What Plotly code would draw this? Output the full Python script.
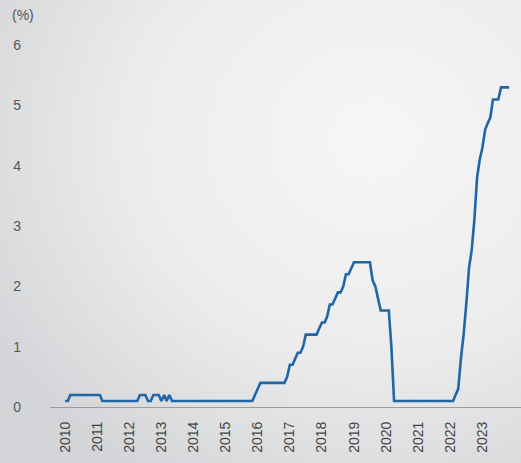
import base64

import pandas as pd
import plotly.graph_objs as go

# Monthly effective rate (%), rounded to one decimal
rate_2010 = [0.1, 0.1, 0.2, 0.2, 0.2, 0.2, 0.2, 0.2, 0.2, 0.2, 0.2, 0.2]
rate_2011 = [0.2, 0.2, 0.1, 0.1, 0.1, 0.1, 0.1, 0.1, 0.1, 0.1, 0.1, 0.1]
rate_2012 = [0.1, 0.1, 0.1, 0.1, 0.2, 0.2, 0.2, 0.1, 0.1, 0.2, 0.2, 0.2]
rate_2013 = [0.1, 0.2, 0.1, 0.2, 0.1, 0.1, 0.1, 0.1, 0.1, 0.1, 0.1, 0.1]
rate_2014 = [0.1, 0.1, 0.1, 0.1, 0.1, 0.1, 0.1, 0.1, 0.1, 0.1, 0.1, 0.1]
rate_2015 = [0.1, 0.1, 0.1, 0.1, 0.1, 0.1, 0.1, 0.1, 0.1, 0.1, 0.1, 0.2]
rate_2016 = [0.3, 0.4, 0.4, 0.4, 0.4, 0.4, 0.4, 0.4, 0.4, 0.4, 0.4, 0.5]
rate_2017 = [0.7, 0.7, 0.8, 0.9, 0.9, 1.0, 1.2, 1.2, 1.2, 1.2, 1.2, 1.3]
rate_2018 = [1.4, 1.4, 1.5, 1.7, 1.7, 1.8, 1.9, 1.9, 2.0, 2.2, 2.2, 2.3]
rate_2019 = [2.4, 2.4, 2.4, 2.4, 2.4, 2.4, 2.4, 2.1, 2.0, 1.8, 1.6, 1.6]
rate_2020 = [1.6, 1.6, 1.0, 0.1, 0.1, 0.1, 0.1, 0.1, 0.1, 0.1, 0.1, 0.1]
rate_2021 = [0.1, 0.1, 0.1, 0.1, 0.1, 0.1, 0.1, 0.1, 0.1, 0.1, 0.1, 0.1]
rate_2022 = [0.1, 0.1, 0.2, 0.3, 0.8, 1.2, 1.7, 2.3, 2.6, 3.1, 3.8, 4.1]
rate_2023 = [4.3, 4.6, 4.7, 4.8, 5.1, 5.1, 5.1, 5.3, 5.3, 5.3, 5.3]

rates = (rate_2010 + rate_2011 + rate_2012 + rate_2013 + rate_2014 + rate_2015 + rate_2016
         + rate_2017 + rate_2018 + rate_2019 + rate_2020 + rate_2021 + rate_2022 + rate_2023)
months = pd.date_range('2010-01-01', periods=len(rates), freq='MS')

years = list(range(2010, 2024))
y_ticks = [0, 1, 2, 3, 4, 5, 6]

W, H = 521, 463
L, R, T, B = 50, 0, 15, 56
pw, ph = W - L - R, H - T - B

# soft grey backdrop, darker towards the left edge
svg = (f'<svg xmlns="http://www.w3.org/2000/svg" width="{W}" height="{H}">'
       '<defs><radialGradient id="g" cx="0.72" cy="0.3" r="0.85">'
       '<stop offset="0" stop-color="#f6f6f6"/><stop offset="0.55" stop-color="#ececed"/>'
       '<stop offset="1" stop-color="#d4d5d8"/></radialGradient></defs>'
       f'<rect width="{W}" height="{H}" fill="url(#g)"/></svg>')
bg_src = 'data:image/svg+xml;base64,' + base64.b64encode(svg.encode()).decode()

fig = go.Figure()
fig.add_trace(go.Scatter(x=months, y=rates, mode='lines',
                         line=dict(color='#1f67a6', width=2.6),
                         hoverinfo='skip'))

fig.update_layout(
    width=W, height=H,
    margin=dict(l=L, r=R, t=T, b=B),
    paper_bgcolor='rgba(0,0,0,0)',
    plot_bgcolor='rgba(0,0,0,0)',
    showlegend=False,
    font=dict(family='Liberation Sans, Arial, sans-serif', color='#555555', size=14),
    images=[dict(source=bg_src, xref='paper', yref='paper',
                 x=-L / pw, y=1 + T / ph, sizex=W / pw, sizey=H / ph,
                 sizing='stretch', layer='below', xanchor='left', yanchor='top')],
    annotations=[dict(text='(%)', xref='paper', yref='paper',
                      x=-40 / pw, y=1.0, xanchor='left', yanchor='middle',
                      showarrow=False, font=dict(size=14, color='#555555'))],
)

fig.update_xaxes(
    range=['2009-07-13', '2024-03-15'],
    tickvals=[f'{y}-01-01' for y in years],
    ticktext=[str(y) for y in years],
    tickangle=-90,
    showgrid=False, zeroline=False,
    showline=True, linecolor='#9c9c9c', linewidth=1,
    ticks='', ticklabelstandoff=8,
    tickfont=dict(size=14, color='#444444'),
)
fig.update_yaxes(
    range=[0, 6.5],
    tickvals=y_ticks,
    showgrid=False, zeroline=False, showline=False,
    ticks='', ticklabelstandoff=28,
    tickfont=dict(size=14, color='#555555'),
)

fig.write_html('out.html', config={'displayModeBar': False},
               post_script="document.body.style.margin='0px';")
